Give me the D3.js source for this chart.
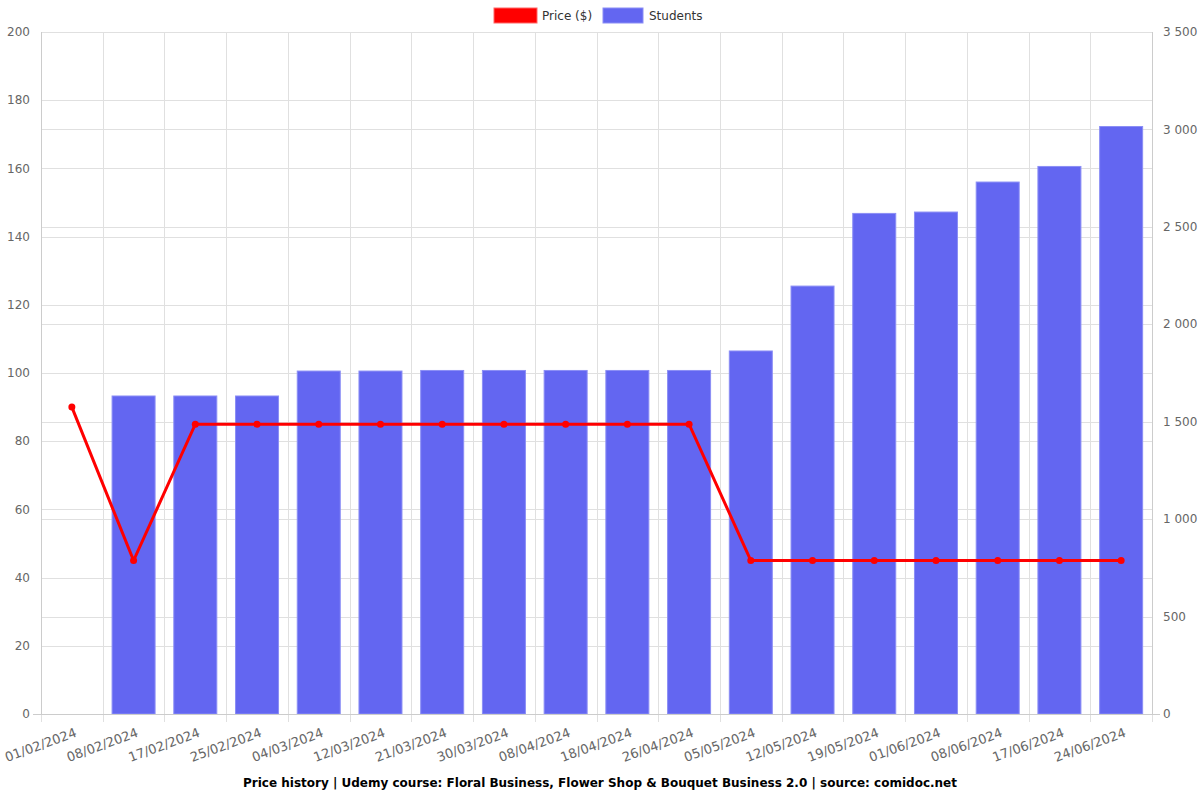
<!DOCTYPE html>
<html>
<head>
<meta charset="utf-8">
<script src="https://cdn.jsdelivr.net/npm/d3@7"></script>
<style>
  body { margin: 0; background: #fff; }
  svg { font-family: "DejaVu Sans", sans-serif; }
</style>
</head>
<body>
<div id="chart"></div>
<script>
const dates = ["01/02/2024", "08/02/2024", "17/02/2024", "25/02/2024", "04/03/2024", "12/03/2024",
  "21/03/2024", "30/03/2024", "08/04/2024", "18/04/2024", "26/04/2024", "05/05/2024",
  "12/05/2024", "19/05/2024", "01/06/2024", "08/06/2024", "17/06/2024", "24/06/2024"];
const prices = [90, 45, 85, 85, 85, 85, 85, 85, 85, 85, 85, 45, 45, 45, 45, 45, 45, 45];
const students = [0, 1632, 1632, 1632, 1760, 1760, 1763, 1763, 1763, 1763, 1763, 1863,
  2196, 2569, 2576, 2730, 2810, 3015];
const priceTicks = [0, 20, 40, 60, 80, 100, 120, 140, 160, 180, 200];
const studentTicks = [0, 500, 1000, 1500, 2000, 2500, 3000, 3500];
const title = "Price history | Udemy course: Floral Business, Flower Shop & Bouquet Business 2.0 | source: comidoc.net";

const width = 1200, height = 800;
const margin = {top: 32, right: 48, bottom: 86, left: 41};

const svg = d3.select("#chart").append("svg")
  .attr("width", width)
  .attr("height", height);

const x = d3.scaleBand()
  .domain(dates)
  .range([margin.left, width - margin.right]);

const yPrice = d3.scaleLinear().domain([0, 200]).range([height - margin.bottom, margin.top]);
const yStud = d3.scaleLinear().domain([0, 3500]).range([height - margin.bottom, margin.top]);

const fmt = v => d3.format(",")(v).replace(/,/g, " ");

// grid
const grid = svg.append("g").attr("stroke", "#e0e0e0").attr("shape-rendering", "crispEdges");
grid.selectAll("line.hp")
  .data(priceTicks)
  .join("line")
  .attr("x1", margin.left).attr("x2", width - margin.right)
  .attr("y1", d => Math.round(yPrice(d)) + 0.5).attr("y2", d => Math.round(yPrice(d)) + 0.5);
grid.selectAll("line.hs")
  .data(studentTicks)
  .join("line")
  .attr("x1", margin.left).attr("x2", width - margin.right)
  .attr("y1", d => Math.round(yStud(d)) + 0.5).attr("y2", d => Math.round(yStud(d)) + 0.5);
grid.selectAll("line.v")
  .data(dates.concat(["end"]))
  .join("line")
  .attr("x1", (d, i) => Math.round(margin.left + i * x.step()) + 0.5)
  .attr("x2", (d, i) => Math.round(margin.left + i * x.step()) + 0.5)
  .attr("y1", margin.top).attr("y2", height - margin.bottom + 8);

// bars
const barW = 43;
svg.append("g")
  .selectAll("rect")
  .data(dates.map((d, i) => ({date: d, v: students[i]})).filter(d => d.v > 0))
  .join("rect")
  .attr("x", d => x(d.date) + x.bandwidth() / 2 - barW / 2)
  .attr("y", d => yStud(d.v))
  .attr("width", barW)
  .attr("height", d => yStud(0) - yStud(d.v))
  .attr("fill", "#6366f1")
  .attr("stroke", "#8b8ef5")
  .attr("stroke-width", 1);

// axes lines
const axisCol = "#cccccc";
svg.append("line")
  .attr("x1", margin.left + 0.5).attr("x2", margin.left + 0.5)
  .attr("y1", margin.top).attr("y2", height - margin.bottom)
  .attr("stroke", axisCol);
svg.append("line")
  .attr("x1", width - margin.right + 0.5).attr("x2", width - margin.right + 0.5)
  .attr("y1", margin.top).attr("y2", height - margin.bottom)
  .attr("stroke", axisCol);
svg.append("line")
  .attr("x1", margin.left - 8).attr("x2", width - margin.right + 8)
  .attr("y1", height - margin.bottom + 0.5).attr("y2", height - margin.bottom + 0.5)
  .attr("stroke", axisCol);

// price line
const line = d3.line()
  .x((d, i) => x(dates[i]) + x.bandwidth() / 2)
  .y(d => yPrice(d));
svg.append("path")
  .datum(prices)
  .attr("d", line)
  .attr("fill", "none")
  .attr("stroke", "#ff0000")
  .attr("stroke-width", 3);
svg.append("g")
  .selectAll("circle")
  .data(prices)
  .join("circle")
  .attr("cx", (d, i) => x(dates[i]) + x.bandwidth() / 2)
  .attr("cy", d => yPrice(d))
  .attr("r", 3.5)
  .attr("fill", "#ff0000");

// tick labels
const tickCol = "#666666";
svg.append("g")
  .selectAll("text")
  .data(priceTicks)
  .join("text")
  .attr("x", margin.left - 11)
  .attr("y", d => yPrice(d))
  .attr("dy", "0.35em")
  .attr("text-anchor", "end")
  .attr("font-size", 12)
  .attr("fill", tickCol)
  .text(d => d);
svg.append("g")
  .selectAll("text")
  .data(studentTicks)
  .join("text")
  .attr("x", width - margin.right + 11)
  .attr("y", d => yStud(d))
  .attr("dy", "0.35em")
  .attr("text-anchor", "start")
  .attr("font-size", 12)
  .attr("fill", tickCol)
  .text(d => fmt(d));
svg.append("g")
  .selectAll("text")
  .data(dates)
  .join("text")
  .attr("transform", d => `translate(${x(d) + x.bandwidth() / 2 + 4},${height - margin.bottom + 18}) rotate(-20)`)
  .attr("text-anchor", "end")
  .attr("dy", "0.35em")
  .attr("font-size", 13)
  .attr("fill", tickCol)
  .text(d => d);

// legend
const legend = svg.append("g").attr("font-size", 12);
legend.append("rect").attr("x", 494).attr("y", 8).attr("width", 43).attr("height", 15)
  .attr("fill", "#ff0000").attr("stroke", "#ff6666");
legend.append("text").attr("x", 542).attr("y", 16).attr("dy", "0.35em").attr("fill", "#333").text("Price ($)");
legend.append("rect").attr("x", 603).attr("y", 8).attr("width", 40).attr("height", 15)
  .attr("fill", "#6366f1").attr("stroke", "#8b8ef5");
legend.append("text").attr("x", 649).attr("y", 16).attr("dy", "0.35em").attr("fill", "#333").text("Students");

// title
svg.append("text")
  .attr("x", width / 2)
  .attr("y", 783)
  .attr("dy", "0.35em")
  .attr("text-anchor", "middle")
  .attr("font-size", 12)
  .attr("font-weight", "bold")
  .attr("fill", "#000")
  .text(title);
</script>
</body>
</html>
